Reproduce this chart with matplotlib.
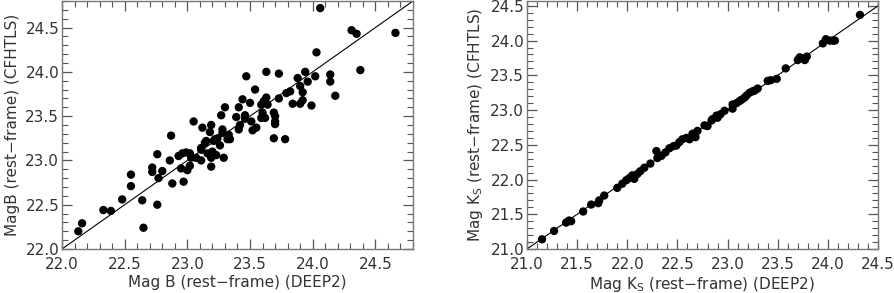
import numpy as np
import matplotlib
matplotlib.use("Agg")
import matplotlib.pyplot as plt
from matplotlib.ticker import MultipleLocator

# left panel: rest-frame B magnitudes
b_deep2 = [22.13, 22.16, 22.33, 22.39, 22.48, 22.55, 22.55, 22.64, 22.65, 22.76,
           22.76, 22.72, 22.72, 22.77, 22.80, 22.86, 22.87, 22.88, 22.93, 22.96,
           22.95, 22.97, 22.99, 23.00, 23.02, 23.02, 23.03, 23.05, 23.07, 23.11,
           23.11, 23.12, 23.14, 23.15, 23.16, 23.18, 23.19, 23.19, 23.19, 23.20,
           23.21, 23.23, 23.24, 23.26, 23.27, 23.28, 23.28, 23.29, 23.30, 23.32,
           23.33, 23.34, 23.39, 23.41, 23.41, 23.42, 23.44, 23.46, 23.46, 23.47,
           23.50, 23.51, 23.52, 23.54, 23.55, 23.59, 23.59, 23.60, 23.61, 23.62,
           23.63, 23.63, 23.64, 23.69, 23.69, 23.70, 23.70, 23.70, 23.73, 23.73,
           23.78, 23.79, 23.82, 23.84, 23.88, 23.90, 23.90, 23.92, 23.92, 23.94,
           23.96, 23.99, 24.02, 24.03, 24.06, 24.14, 24.14, 24.18, 24.31, 24.35,
           24.38, 24.66, 23.11, 23.18, 23.22]
b_cfhtls = [22.20, 22.29, 22.44, 22.43, 22.56, 22.84, 22.71, 22.55, 22.24, 23.07,
            22.50, 22.92, 22.87, 22.80, 22.88, 23.00, 23.28, 22.74, 23.05, 23.08,
            22.91, 22.76, 23.09, 22.89, 22.94, 23.08, 23.03, 23.44, 23.03, 23.12,
            23.00, 23.37, 23.20, 23.22, 23.08, 23.32, 23.40, 22.93, 23.03, 23.10,
            23.22, 23.06, 23.25, 23.17, 23.51, 23.35, 23.31, 23.03, 23.60, 23.24,
            23.29, 23.24, 23.49, 23.60, 23.35, 23.40, 23.69, 23.51, 23.47, 23.95,
            23.65, 23.44, 23.34, 23.80, 23.37, 23.63, 23.48, 23.54, 23.67, 23.48,
            24.00, 23.71, 23.63, 23.25, 23.54, 23.41, 23.44, 23.50, 23.98, 23.70,
            23.24, 23.76, 23.78, 23.64, 23.93, 23.84, 23.64, 23.68, 23.77, 24.00,
            23.89, 23.62, 23.95, 24.22, 24.72, 23.97, 23.89, 23.73, 24.47, 24.43,
            24.02, 24.44, 23.14, 23.07, 23.24]

# right panel: rest-frame Ks magnitudes
k_deep2 = [21.15, 21.27, 21.39, 21.42, 21.44, 21.56, 21.64, 21.71, 21.72, 21.77,
           21.90, 21.95, 21.99, 22.02, 22.05, 22.07, 22.10, 22.13, 22.17, 22.23,
           22.29, 22.30, 22.34, 22.38, 22.42, 22.46, 22.49, 22.52, 22.55, 22.59,
           22.62, 22.65, 22.68, 22.70, 22.77, 22.80, 22.84, 22.85, 22.89, 22.90,
           22.93, 22.97, 23.05, 23.05, 23.09, 23.12, 23.14, 23.17, 23.19, 23.22,
           23.25, 23.27, 23.30, 23.40, 23.43, 23.49, 23.58, 23.70, 23.72, 23.77,
           23.79, 23.95, 23.98, 24.02, 24.05, 24.07, 24.32]
k_cfhtls = [21.14, 21.26, 21.38, 21.41, 21.40, 21.54, 21.64, 21.66, 21.70, 21.77,
            21.88, 21.94, 21.99, 22.02, 22.06, 22.01, 22.08, 22.12, 22.17, 22.23,
            22.41, 22.31, 22.34, 22.39, 22.45, 22.48, 22.49, 22.54, 22.58, 22.60,
            22.58, 22.66, 22.61, 22.70, 22.78, 22.77, 22.85, 22.87, 22.92, 22.89,
            22.94, 22.99, 23.02, 23.08, 23.10, 23.13, 23.15, 23.18, 23.21, 23.25,
            23.27, 23.28, 23.31, 23.42, 23.43, 23.45, 23.60, 23.72, 23.76, 23.72,
            23.77, 23.96, 24.02, 24.00, 24.00, 24.00, 24.37]

txt = '#333333'
plt.rcParams['font.family'] = 'DejaVu Sans'

fig = plt.figure(figsize=(8.94, 2.93), dpi=100)
W, H = 894.0, 293.0
ax1 = fig.add_axes([62 / W, 44 / H, 351 / W, 248 / H])
ax2 = fig.add_axes([527 / W, 44 / H, 351 / W, 248 / H])


def style(ax, lo, hi, ytop, xlabel, ylabel):
    ax.set_xlim(lo, hi)
    ax.set_ylim(lo, ytop)
    ax.plot([lo, ytop], [lo, ytop], color='black', lw=0.8, zorder=2)
    ax.xaxis.set_major_locator(MultipleLocator(0.5))
    ax.yaxis.set_major_locator(MultipleLocator(0.5))
    ax.xaxis.set_minor_locator(MultipleLocator(0.1))
    ax.yaxis.set_minor_locator(MultipleLocator(0.1))
    ax.xaxis.set_major_formatter(plt.FormatStrFormatter('%.1f'))
    ax.yaxis.set_major_formatter(plt.FormatStrFormatter('%.1f'))
    ax.tick_params(which='both', direction='in', top=True, right=True,
                   color='#555555', labelcolor=txt, labelsize=11)
    ax.tick_params(which='major', length=7, width=0.9)
    ax.tick_params(which='minor', length=4, width=0.8)
    ax.tick_params(axis='x', pad=6)
    ax.tick_params(axis='y', pad=2)
    for s in ax.spines.values():
        s.set_color('#777777')
        s.set_linewidth(1.0)
    ax.set_xlabel(xlabel, color=txt, fontsize=11, labelpad=2)
    ax.set_ylabel(ylabel, color=txt, fontsize=11, labelpad=4)


ax1.scatter(b_deep2, b_cfhtls, s=36, color='black', edgecolors='none', zorder=3)
style(ax1, 22.0, 24.8, 24.8, 'Mag B (rest\u2212frame) (DEEP2)',
      'MagB (rest\u2212frame) (CFHTLS)')

ax2.scatter(k_deep2, k_cfhtls, s=36, color='black', edgecolors='none', zorder=3)
style(ax2, 21.0, 24.5, 24.57, 'Mag K$_\\mathregular{S}$ (rest\u2212frame) (DEEP2)',
      'Mag K$_\\mathregular{S}$ (rest\u2212frame) (CFHTLS)')

fig.savefig('out.png', dpi=100)
